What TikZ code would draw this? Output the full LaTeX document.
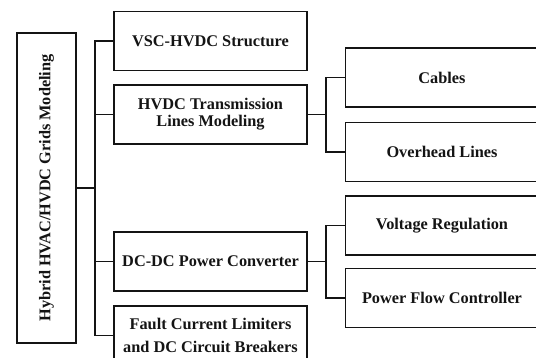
\documentclass[tikz,border=0pt]{standalone}
\usepackage{fontspec}
\setmainfont{Liberation Serif}
\usetikzlibrary{positioning,calc}
\definecolor{ink}{HTML}{141414}

\begin{document}
\begin{tikzpicture}[x=1pt,y=-1pt,
  box/.style={draw=ink,line width=1.8pt,minimum width=193pt,minimum height=59pt,
    align=center,inner sep=2pt,text=ink,font=\fontsize{16.3}{17}\selectfont\bfseries},
  link/.style={draw=ink,line width=1.8pt}]
  \useasboundingbox (0,0) rectangle (536,358);
  \clip (0,0) rectangle (536,358);
  % root
  \node[box,rotate=90,minimum width=310pt,minimum height=59pt] (root) at (46.5,188) {Hybrid HVAC/HVDC Grids Modeling};
  % first level
  \node[box] (vsc)  at (210.5,41)    {VSC-HVDC Structure};
  \node[box] (hvdc) at (210.5,114.5) {HVDC Transmission\\Lines Modeling};
  \node[box] (dcdc) at (210.5,261.5) {DC-DC Power Converter};
  \node[box] (fcl)  at (210.5,335.5) {Fault Current Limiters\\[6pt]and DC Circuit Breakers};
  % second level
  \node[box] (cab)  at (442,77.5)  {Cables};
  \node[box] (ohl)  at (442,152)   {Overhead Lines};
  \node[box] (volt) at (442,225.5) {Voltage Regulation};
  \node[box] (pfc)  at (442,298)   {Power Flow Controller};
  % connectors
  \coordinate (spine) at (95,0);
  \coordinate (fork) at (326,0);
  \draw[link] (root.south) -- (root.south -| spine);
  \draw[link] (vsc.west) -- (vsc.west -| spine) -- (fcl.west -| spine) -- (fcl.west);
  \foreach \n in {hvdc,dcdc}
    \draw[link] (\n.west) -- (\n.west -| spine);
  \foreach \p/\a/\b in {hvdc/cab/ohl,dcdc/volt/pfc}{
    \draw[link] (\p.east) -- (\p.east -| fork);
    \draw[link] (\a.west) -- (\a.west -| fork) -- (\b.west -| fork) -- (\b.west);
  }
\end{tikzpicture}
\end{document}
